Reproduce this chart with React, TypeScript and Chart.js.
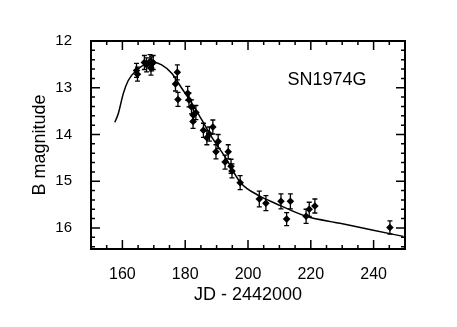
import React, { useEffect, useRef } from "react";
import { Chart, registerables } from "chart.js";
Chart.register(...registerables);

// Observed B magnitudes of SN1974G
const obsJD = [164.5, 164.8, 167.0, 167.7, 168.8, 169.3, 169.8, 169.1, 177.5, 176.9, 177.7, 180.8, 181.2, 182.0, 182.6, 183.4, 182.5, 185.8, 186.9, 187.7, 188.8, 190.5, 189.8, 193.7, 192.7, 194.6, 194.9, 197.5, 203.6, 205.7, 210.5, 213.5, 212.3, 218.5, 219.5, 221.3, 245.2];
const obsMag = [12.63, 12.71, 12.46, 12.51, 12.44, 12.49, 12.46, 12.58, 12.67, 12.92, 13.25, 13.12, 13.26, 13.41, 13.59, 13.53, 13.72, 13.91, 14.07, 13.99, 13.84, 14.15, 14.37, 14.37, 14.59, 14.68, 14.78, 15.03, 15.38, 15.47, 15.43, 15.43, 15.81, 15.75, 15.6, 15.53, 15.99];
const obsErr = [0.15, 0.15, 0.15, 0.15, 0.15, 0.15, 0.15, 0.15, 0.16, 0.15, 0.15, 0.15, 0.15, 0.15, 0.15, 0.15, 0.15, 0.15, 0.15, 0.15, 0.15, 0.15, 0.15, 0.15, 0.15, 0.15, 0.15, 0.15, 0.17, 0.16, 0.16, 0.16, 0.14, 0.15, 0.15, 0.15, 0.14];

// Model light curve
const fitJD = [157.6, 158.7, 160.3, 161.9, 164.6, 167.2, 169.8, 172.5, 175.7, 178.9, 182.1, 185.3, 188.4, 192.7, 197.5, 203.8, 208.6, 218.5, 229.3, 239.9, 249.5];
const fitMag = [13.74, 13.55, 13.12, 12.84, 12.62, 12.5, 12.46, 12.51, 12.69, 13.01, 13.33, 13.69, 14.05, 14.48, 15.02, 15.32, 15.47, 15.75, 15.9, 16.05, 16.18];

const xMajorTicks = [160, 180, 200, 220, 240];
const xMinorTicks = [155, 165, 170, 175, 185, 190, 195, 205, 210, 215, 225, 230, 235, 245];
const yMajorTicks = [12, 13, 14, 15, 16];
const yMinorTicks = [12.2, 12.4, 12.6, 12.8, 13.2, 13.4, 13.6, 13.8, 14.2, 14.4, 14.6, 14.8, 15.2, 15.4, 15.6, 15.8, 16.2, 16.4];

const xTitle = "JD - 2442000";
const yTitle = "B magnitude";
const label = "SN1974G";

const FONT = "'Liberation Sans', Arial, Helvetica, sans-serif";

const decor = {
  id: "decor",
  beforeDatasetsDraw(chart: any) {
    const { ctx, scales } = chart;
    const xs = scales.x, ys = scales.y;
    ctx.save();
    ctx.strokeStyle = "#000";
    ctx.lineWidth = 1.3;
    obsJD.forEach((jd, i) => {
      const px = xs.getPixelForValue(jd);
      const y1 = ys.getPixelForValue(obsMag[i] - obsErr[i]);
      const y2 = ys.getPixelForValue(obsMag[i] + obsErr[i]);
      ctx.beginPath();
      ctx.moveTo(px, y1); ctx.lineTo(px, y2);
      ctx.moveTo(px - 2.5, y1); ctx.lineTo(px + 2.5, y1);
      ctx.moveTo(px - 2.5, y2); ctx.lineTo(px + 2.5, y2);
      ctx.stroke();
    });
    ctx.restore();
  },
  afterDraw(chart: any) {
    const { ctx, chartArea: a, scales } = chart;
    const xs = scales.x, ys = scales.y;
    ctx.save();
    ctx.strokeStyle = "#000";
    ctx.lineWidth = 1.5;
    const tick = (vals: number[], len: number) => {
      ctx.beginPath();
      vals.forEach((v) => {
        const px = xs.getPixelForValue(v);
        ctx.moveTo(px, a.bottom); ctx.lineTo(px, a.bottom - len);
        ctx.moveTo(px, a.top); ctx.lineTo(px, a.top + len);
      });
      ctx.stroke();
    };
    const ytick = (vals: number[], len: number) => {
      ctx.beginPath();
      vals.forEach((v) => {
        const py = ys.getPixelForValue(v);
        ctx.moveTo(a.left, py); ctx.lineTo(a.left + len, py);
        ctx.moveTo(a.right, py); ctx.lineTo(a.right - len, py);
      });
      ctx.stroke();
    };
    tick(xMajorTicks, 9);
    tick(xMinorTicks, 4);
    ytick(yMajorTicks, 9);
    ytick(yMinorTicks, 4);
    ctx.lineWidth = 2;
    ctx.strokeRect(a.left, a.top, a.right - a.left, a.bottom - a.top);

    ctx.fillStyle = "#000";
    ctx.font = `18px ${FONT}`;
    ctx.textAlign = "center";
    ctx.textBaseline = "middle";
    ctx.fillText(xTitle, (a.left + a.right) / 2, 295);
    ctx.fillText(label, 327, 80);
    ctx.translate(40, (a.top + a.bottom) / 2);
    ctx.rotate(-Math.PI / 2);
    ctx.fillText(yTitle, 0, 0);
    ctx.restore();
  },
};

export default function App() {
  const ref = useRef<HTMLCanvasElement>(null);
  useEffect(() => {
    if (!ref.current) return;
    const chart = new Chart(ref.current, {
      type: "scatter",
      data: {
        datasets: [
          {
            label: "fit",
            type: "line",
            data: fitJD.map((x, i) => ({ x, y: fitMag[i] })),
            borderColor: "#000",
            borderWidth: 1.5,
            pointRadius: 0,
            fill: false,
            cubicInterpolationMode: "monotone",
            showLine: true,
          },
          {
            label: "obs",
            data: obsJD.map((x, i) => ({ x, y: obsMag[i] })),
            backgroundColor: "#000",
            borderColor: "#000",
            pointStyle: "rectRot",
            pointRadius: 3.8,
            borderWidth: 0,
          },
        ],
      } as any,
      options: {
        animation: false,
        responsive: false,
        devicePixelRatio: 1,
        layout: { padding: { top: 41, right: 52, left: 0, bottom: 0 } },
        plugins: { legend: { display: false }, tooltip: { enabled: false }, title: { display: false } },
        scales: {
          x: {
            type: "linear",
            min: 150,
            max: 250,
            grid: { display: false },
            border: { display: false },
            afterBuildTicks: (s: any) => { s.ticks = xMajorTicks.map((v) => ({ value: v })); },
            afterFit: (s: any) => { s.height = 78; },
            ticks: { color: "#000", font: { family: FONT, size: 16 }, padding: 8, maxRotation: 0 },
          },
          y: {
            type: "linear",
            reverse: true,
            min: 12,
            max: 16.45,
            grid: { display: false },
            border: { display: false },
            afterBuildTicks: (s: any) => { s.ticks = yMajorTicks.map((v) => ({ value: v })); },
            afterFit: (s: any) => { s.width = 91; },
            ticks: { color: "#000", font: { family: FONT, size: 15 }, padding: 11 },
          },
        },
      } as any,
      plugins: [decor],
    });
    return () => chart.destroy();
  }, []);
  return (
    <div style={{ position: "absolute", left: 0, top: 0, width: 457, height: 327, background: "#fff" }}>
      <canvas ref={ref} width={457} height={327} />
    </div>
  );
}
